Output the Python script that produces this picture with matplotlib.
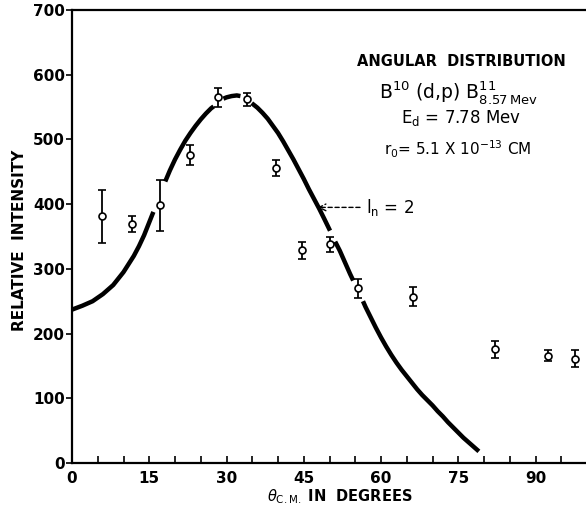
import matplotlib
matplotlib.use("Agg")
import matplotlib.pyplot as plt
import numpy as np

# Measured data points (theta_CM in degrees, relative intensity, error)
theta = [5.8, 11.6, 17.1, 22.9, 28.3, 33.9, 39.6, 44.6, 50.1, 55.6, 66.2, 82.1, 92.5, 97.7]
intensity = [381, 369, 398, 476, 565, 562, 456, 329, 338, 270, 257, 176, 166, 161]
err = [41, 12, 40, 15, 15, 10, 12, 13, 12, 15, 15, 13, 8, 13]

# Theoretical curve l_n = 2
curve_x = [0, 2, 4, 6, 8, 10, 12, 13, 14, 15, 15.8, 18.1, 19, 20, 21, 22, 23, 24, 25, 26,
           27, 27.5, 29.4, 30, 31, 32, 32.7, 34.9, 36, 37, 38, 39, 40, 41, 42, 43, 44, 45,
           46, 47, 48, 49, 50.1, 51.1, 52, 53, 54, 54.6, 56.5, 57, 58, 59, 60, 61, 62, 63,
           64, 65, 66, 67, 68, 69, 70, 71, 72, 73, 74, 75, 76, 77, 78, 79]
curve_y = [237, 243, 250, 261, 275, 295, 320, 335, 352, 372, 388, 435, 452, 469, 484, 498,
           510, 521, 531, 540, 548, 551, 563, 565, 567, 568, 567, 556, 549, 541, 532, 521,
           510, 497, 483, 469, 454, 439, 423, 408, 393, 377, 359, 342, 328, 310, 292, 282,
           250, 241, 225, 209, 194, 180, 167, 155, 144, 134, 124, 114, 105, 97, 89, 80,
           72, 63, 55, 47, 39, 32, 25, 18]
# breaks in the drawn curve around data points
curve_gaps = [(15.8, 18.1), (27.5, 29.4), (32.7, 34.9), (50.1, 51.1), (54.6, 56.5)]

xticks = [0, 15, 30, 45, 60, 75, 90]
yticks = [0, 100, 200, 300, 400, 500, 600, 700]

plt.rcParams['font.family'] = ['DejaVu Sans']

fig = plt.figure(figsize=(5.86, 5.14), dpi=100)
ax = fig.add_axes([72/586, 1-463/514, 1-72/586, (463-10)/514])

# split curve into segments at the gaps
segs = []
cur_x, cur_y = [], []
for i, (x, y) in enumerate(zip(curve_x, curve_y)):
    cur_x.append(x)
    cur_y.append(y)
    if any(abs(x - g0) < 1e-9 for g0, g1 in curve_gaps):
        segs.append((cur_x, cur_y))
        cur_x, cur_y = [], []
segs.append((cur_x, cur_y))
for sx, sy in segs:
    ax.plot(sx, sy, color='black', lw=3.2, solid_capstyle='butt',
            solid_joinstyle='round', zorder=2)

ax.errorbar(theta, intensity, yerr=err, fmt='o', mfc='white', mec='black',
            mew=1.2, ms=5, ecolor='black', elinewidth=1.3, capsize=2.6,
            capthick=1.3, zorder=4)

ax.set_xlim(0, 99.8)
ax.set_ylim(0, 700)
ax.spines['right'].set_visible(False)
for s in ['left', 'bottom', 'top']:
    ax.spines[s].set_linewidth(1.6)

ax.set_xticks(np.arange(0, 100, 5), minor=True)
ax.set_xticks(xticks)
ax.set_xticklabels([str(v) for v in xticks], fontsize=11, fontweight='bold')
ax.tick_params(axis='x', which='both', direction='in', length=5, width=1.2, pad=6)
ax.set_yticks(yticks)
ax.set_yticklabels([str(v) for v in yticks], fontsize=11, fontweight='bold')
ax.tick_params(axis='y', direction='out', length=4, width=1.2, pad=1)

fig.text(20/586, 1-240/514, 'RELATIVE  INTENSITY', rotation=90, ha='center',
         va='center', fontsize=11, fontweight='bold')
fig.text(340/586, 1-497/514, r'$\theta_{\mathrm{C.M.}}$ IN  DEGREES', ha='center',
         va='center', fontsize=10.5, fontweight='bold')

fig.text(461/586, 1-62/514, 'ANGULAR  DISTRIBUTION', ha='center', va='center',
         fontsize=10.5, fontweight='bold')
fig.text(458/586, 1-92/514, r'B$^{10}$ (d,p) B$^{11}_{8.57\,\mathrm{Mev}}$', ha='center',
         va='center', fontsize=13.5)
fig.text(461/586, 1-118/514, r'E$_\mathrm{d}$ = 7.78 Mev', ha='center', va='center',
         fontsize=12)
fig.text(458/586, 1-149/514, r'r$_\mathrm{0}$= 5.1 X 10$^{-13}$ CM', ha='center',
         va='center', fontsize=11)

ax.annotate(r'l$_\mathrm{n}$ = 2', xy=(47.7, 395), xytext=(57, 395),
            fontsize=12, va='center', ha='left',
            arrowprops=dict(arrowstyle='->', linestyle=(0, (3, 2)), lw=1.0,
                            color='black', shrinkA=2, shrinkB=0))

fig.savefig('out.png', dpi=100)
